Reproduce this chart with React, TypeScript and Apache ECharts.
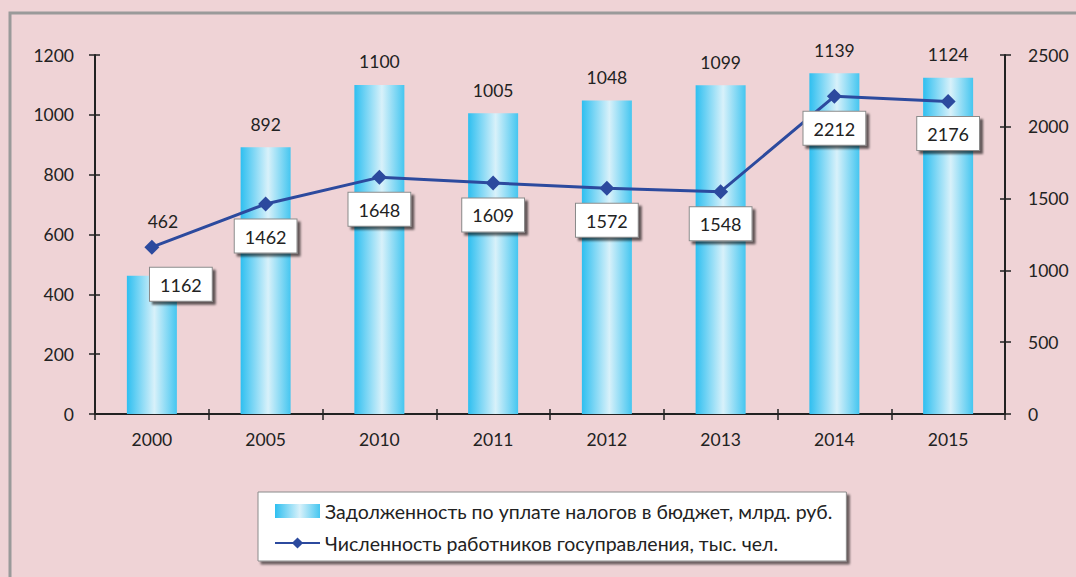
import React, { useEffect, useRef } from "react";
import * as echarts from "echarts";

const categories = ["2000", "2005", "2010", "2011", "2012", "2013", "2014", "2015"];
const debtValues = [462, 892, 1100, 1005, 1048, 1099, 1139, 1124];
const staffValues = [1162, 1462, 1648, 1609, 1572, 1548, 2212, 2176];
const debtName = "Задолженность по уплате налогов в бюджет, млрд. руб.";
const staffName = "Численность работников госуправления, тыс. чел.";

const FONT = "Lato, 'Open Sans', sans-serif";
const TEXT = "#222";

export default function App() {
  const ref = useRef<HTMLDivElement>(null);
  useEffect(() => {
    if (!ref.current) return;
    const chart = echarts.init(ref.current, null, { renderer: "svg" });
    const barGradient = new echarts.graphic.LinearGradient(0, 0, 1, 0, [
      { offset: 0, color: "#2ebff0" },
      { offset: 0.55, color: "#d8f1fa" },
      { offset: 1, color: "#45c6f0" },
    ]);
    const axisLine = { show: true, lineStyle: { color: "#222", width: 2 } };
    const hiddenAxisBase = {
      axisLabel: { show: false },
      splitLine: { show: false },
      axisLine: { show: false },
    };
    const plain = (v: number) => String(v);
    chart.setOption({
      animation: false,
      backgroundColor: "#efd3d6",
      textStyle: { fontFamily: FONT },
      graphic: [
        {
          type: "rect",
          shape: { x: 10, y: 13, width: 1200, height: 700 },
          style: { fill: "none", stroke: "#9a9a9a", lineWidth: 3 },
          silent: true,
        },
      ],
      grid: { left: 95, right: 71, top: 55, bottom: 163 },
      legend: {
        orient: "vertical",
        left: 258,
        top: 492,
        itemWidth: 45,
        itemHeight: 14,
        itemGap: 12,
        padding: [9, 14, 8, 16],
        backgroundColor: "#ffffff",
        borderColor: "#8a8a8a",
        borderWidth: 1,
        shadowColor: "rgba(0,0,0,0.55)",
        shadowOffsetX: 3,
        shadowOffsetY: 3,
        shadowBlur: 2,
        textStyle: { fontFamily: FONT, fontSize: 19.5, color: TEXT },
        data: [
          { name: debtName, icon: "rect" },
          { name: staffName },
        ],
      },
      xAxis: [
        {
          type: "category",
          data: categories,
          axisLine,
          axisTick: { show: true, length: 6, lineStyle: { color: "#222", width: 1.5 } },
          axisLabel: { color: TEXT, fontSize: 17.5, margin: 16, fontFamily: FONT },
        },
        {
          type: "category",
          data: categories,
          position: "bottom",
          ...hiddenAxisBase,
          axisTick: { show: true, inside: true, length: 5, lineStyle: { color: "#222", width: 1.5 } },
        },
      ],
      yAxis: [
        {
          type: "value",
          min: 0,
          max: 1200,
          interval: 200,
          position: "left",
          axisLine,
          axisTick: { show: true, length: 6, lineStyle: { color: "#222", width: 1.5 } },
          axisLabel: { color: TEXT, fontSize: 17.5, margin: 21, fontFamily: FONT, formatter: plain },
          splitLine: { show: false },
        },
        {
          type: "value",
          min: 0,
          max: 2500,
          interval: 500,
          position: "right",
          axisLine,
          axisTick: { show: true, length: 6, lineStyle: { color: "#222", width: 1.5 } },
          axisLabel: { color: TEXT, fontSize: 17.5, margin: 23, fontFamily: FONT, formatter: plain },
          splitLine: { show: false },
        },
        {
          type: "value",
          min: 0,
          max: 1200,
          interval: 200,
          position: "left",
          ...hiddenAxisBase,
          axisTick: { show: true, inside: true, length: 5, lineStyle: { color: "#222", width: 1.5 } },
        },
        {
          type: "value",
          min: 0,
          max: 2500,
          interval: 500,
          position: "right",
          ...hiddenAxisBase,
          axisTick: { show: true, inside: true, length: 5, lineStyle: { color: "#222", width: 1.5 } },
        },
      ],
      series: [
        {
          name: debtName,
          type: "bar",
          xAxisIndex: 0,
          yAxisIndex: 0,
          barWidth: 50,
          itemStyle: { color: barGradient },
          label: {
            show: true,
            position: "top",
            distance: 14,
            color: TEXT,
            fontSize: 17.5,
            fontFamily: FONT,
          },
          data: debtValues.map((v, i) =>
            i === 0 ? { value: v, label: { offset: [11, -31] } } : v
          ),
          z: 2,
        },
        {
          name: staffName,
          type: "line",
          xAxisIndex: 0,
          yAxisIndex: 1,
          symbol: "diamond",
          symbolSize: 15,
          lineStyle: { color: "#2c4a9e", width: 3 },
          itemStyle: { color: "#2c4a9e" },
          label: {
            show: true,
            position: "bottom",
            distance: 8,
            color: TEXT,
            fontSize: 18,
            fontFamily: FONT,
            lineHeight: 20,
            backgroundColor: "#ffffff",
            borderColor: "#8a8a8a",
            borderWidth: 1,
            padding: [7, 10, 6, 10],
            shadowColor: "rgba(0,0,0,0.6)",
            shadowOffsetX: 3,
            shadowOffsetY: 3,
            shadowBlur: 2,
          },
          data: staffValues.map((v, i) =>
            i === 0 ? { value: v, label: { offset: [29, 5] } } : v
          ),
          z: 5,
        },
      ],
    });
    return () => chart.dispose();
  }, []);
  return (
    <div
      ref={ref}
      style={{ position: "fixed", left: 0, top: 0, width: 1076, height: 577 }}
    />
  );
}
